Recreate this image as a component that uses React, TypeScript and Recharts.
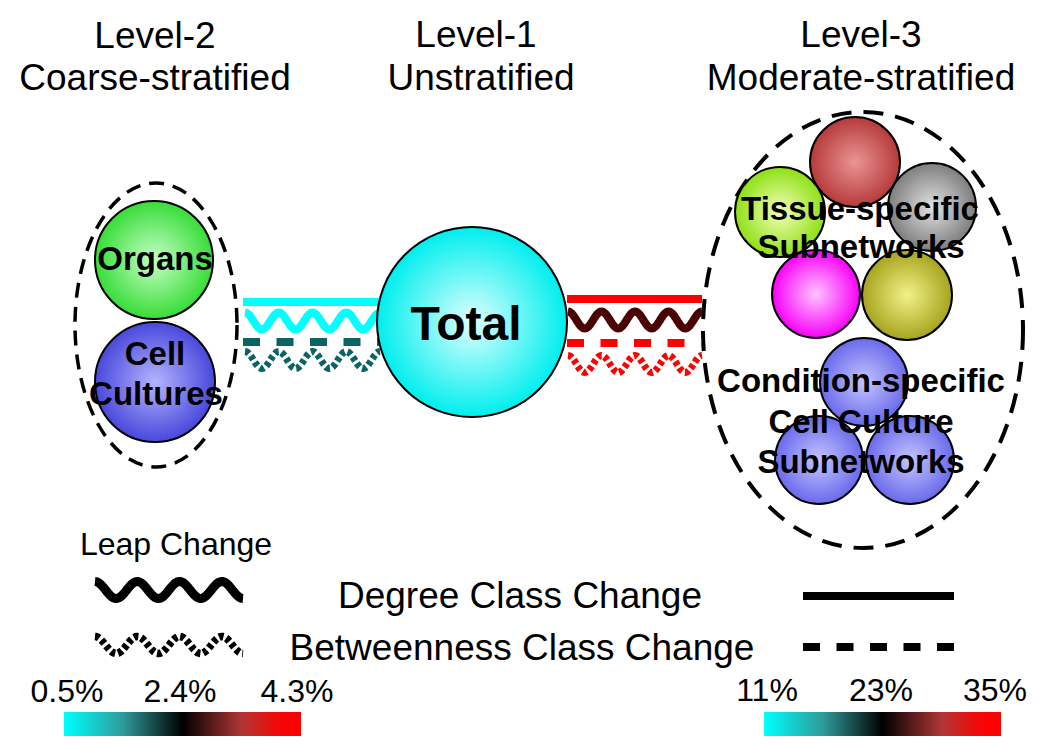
import React from "react";
import { ReferenceArea, ReferenceLine, Scatter, ScatterChart, XAxis, YAxis } from "recharts";

const W = 1039;
const H = 756;
const FONT = "'Liberation Sans', Arial, Helvetica, sans-serif";

// ball colours: [highlight, rim]
const BALL: Record<string, [string, string]> = {
  green: ["#c6ffc6", "#38dc38"],
  blue: ["#b4b4ff", "#4848dc"],
  cyan: ["#e0ffff", "#00eeee"],
  red: ["#eb9494", "#b63a3a"],
  gray: ["#e2e2e2", "#7e7e7e"],
  lime: ["#f4ffb8", "#8ee015"],
  magenta: ["#ffc4ff", "#f800f8"],
  olive: ["#f2f288", "#a6a41e"],
  lavender: ["#c4c4ff", "#6a6aec"],
};

const INK: Record<string, string> = {
  cyan: "#00ffff",
  teal: "#0b6363",
  red: "#ff0000",
  maroon: "#4a0202",
  black: "#000000",
};

// subnetworks (centre + radius in picture units)
const nodes = [
  { id: "organs", x: 154, y: 260, r: 59, ball: "green" },
  { id: "cells", x: 155, y: 382, r: 60, ball: "blue" },
  { id: "total", x: 472, y: 322, r: 95, ball: "cyan" },
  { id: "t-red", x: 855, y: 162, r: 45, ball: "red" },
  { id: "t-gray", x: 932, y: 207, r: 44, ball: "gray" },
  { id: "t-lime", x: 780, y: 212, r: 45, ball: "lime" },
  { id: "t-mag", x: 816, y: 294, r: 44, ball: "magenta" },
  { id: "t-olive", x: 907, y: 295, r: 45, ball: "olive" },
  { id: "c-top", x: 864, y: 382, r: 44, ball: "lavender" },
  { id: "c-left", x: 819, y: 460, r: 44, ball: "lavender" },
  { id: "c-right", x: 910, y: 460, r: 44, ball: "lavender" },
];

// stratification groups (bounding boxes of the dashed ovals)
const groups = [
  { id: "level2", x1: 75, x2: 237, y1: 183, y2: 467 },
  { id: "level3", x1: 703, x2: 1023, y1: 112, y2: 548 },
];

// class-change links between levels
const links = [
  { id: "l-deg", x1: 243, x2: 380, y: 302, kind: "solid", ink: "cyan" },
  { id: "l-leap", x1: 245, x2: 380, y: 321, kind: "wave", ink: "cyan" },
  { id: "l-btw", x1: 243, x2: 382, y: 342, kind: "dash", ink: "teal" },
  { id: "l-leapb", x1: 245, x2: 380, y: 360, kind: "dotwave", ink: "teal" },
  { id: "r-deg", x1: 567, x2: 702, y: 299, kind: "solid", ink: "red" },
  { id: "r-leap", x1: 568, x2: 702, y: 320, kind: "wave", ink: "maroon" },
  { id: "r-btw", x1: 567, x2: 702, y: 343, kind: "dash", ink: "red" },
  { id: "r-leapb", x1: 568, x2: 702, y: 364, kind: "dotwave", ink: "red" },
];

// legend keys
const keys = [
  { id: "k-leap", x1: 95, x2: 243, y: 590, kind: "bigwave", ink: "black" },
  { id: "k-leapb", x1: 95, x2: 243, y: 645, kind: "bigdotwave", ink: "black" },
  { id: "k-deg", x1: 803, x2: 954, y: 596, kind: "solid", ink: "black" },
  { id: "k-btw", x1: 803, x2: 954, y: 647, kind: "dash", ink: "black" },
];

const titles = [
  { text: "Level-2", x: 155, y: 48 },
  { text: "Coarse-stratified", x: 155, y: 90 },
  { text: "Level-1", x: 476, y: 47 },
  { text: "Unstratified", x: 481, y: 90 },
  { text: "Level-3", x: 861, y: 47 },
  { text: "Moderate-stratified", x: 861, y: 90 },
];

const nodeLabels = [
  { text: "Organs", x: 155, y: 270 },
  { text: "Cell", x: 155, y: 365 },
  { text: "Cultures", x: 156, y: 405 },
  { text: "Tissue-specific", x: 860, y: 220 },
  { text: "Subnetworks", x: 861, y: 258 },
  { text: "Condition-specific", x: 861, y: 392 },
  { text: "Cell Culture", x: 861, y: 433 },
  { text: "Subnetworks", x: 861, y: 473 },
];

const bigLabels = [{ text: "Total", x: 466, y: 340 }];

const legendLabels = [
  { text: "Leap Change", x: 176, y: 555, small: true },
  { text: "Degree Class Change", x: 520, y: 608 },
  { text: "Betweenness Class Change", x: 522, y: 660 },
];

const scales = [
  { id: "leap", x1: 64, x2: 301, y1: 712, y2: 736 },
  { id: "class", x1: 764, x2: 1001, y1: 712, y2: 736 },
];

const scaleTicks = [
  { text: "0.5%", x: 67, y: 702 },
  { text: "2.4%", x: 180, y: 702 },
  { text: "4.3%", x: 297, y: 702 },
  { text: "11%", x: 767, y: 701 },
  { text: "23%", x: 881, y: 701 },
  { text: "35%", x: 995, y: 701 },
];

const STYLE: Record<string, { w: number; dash?: string; amp?: number; cycles?: number }> = {
  solid: { w: 8 },
  dash: { w: 8, dash: "17 16.5" },
  wave: { w: 8, amp: 8.5, cycles: 4 },
  dotwave: { w: 7, amp: 8.5, cycles: 4, dash: "4.5 3" },
  bigwave: { w: 9, amp: 8.5, cycles: 3.5 },
  bigdotwave: { w: 7.5, amp: 8.5, cycles: 3.5, dash: "4.5 3" },
};

function wavePath(x1: number, x2: number, y: number, amp: number, cycles: number) {
  const n = 160;
  let d = "";
  for (let i = 0; i <= n; i++) {
    const t = i / n;
    const px = x1 + (x2 - x1) * t;
    const py = y - amp * Math.cos(2 * Math.PI * cycles * t);
    d += `${i ? "L" : "M"}${px.toFixed(2)},${py.toFixed(2)}`;
  }
  return d;
}

function linkShape(kind: string, color: string) {
  const s = STYLE[kind];
  return (p: any) => {
    if (s.amp) {
      return (
        <path
          d={wavePath(p.x1, p.x2, p.y1, s.amp, s.cycles!)}
          fill="none"
          stroke={color}
          strokeWidth={s.w}
          strokeDasharray={s.dash}
        />
      );
    }
    return <line x1={p.x1} y1={p.y1} x2={p.x2} y2={p.y2} stroke={color} strokeWidth={s.w} strokeDasharray={s.dash} />;
  };
}

const Ball = (p: any) => {
  const d = p.payload;
  return <circle cx={p.cx} cy={p.cy} r={d.r} fill={`url(#ball-${d.ball})`} stroke="#000" strokeWidth={2} />;
};

function textShape(size: number, bold: boolean) {
  return (p: any) => (
    <text
      x={p.cx}
      y={p.cy}
      textAnchor="middle"
      fontFamily={FONT}
      fontSize={p.payload.small ? 32 : size}
      fontWeight={bold ? 700 : 400}
      fill="#000"
    >
      {p.payload.text}
    </text>
  );
}

const Oval = (dash: string, w: number) => (p: any) => {
  const rx = Math.abs(p.width) / 2;
  const ry = Math.abs(p.height) / 2;
  const cx = p.x + p.width / 2;
  const cy = p.y + p.height / 2;
  return <ellipse cx={cx} cy={cy} rx={rx} ry={ry} fill="none" stroke="#000" strokeWidth={w} strokeDasharray={dash} />;
};

export default function App() {
  return (
    <div style={{ position: "absolute", left: 0, top: 0, width: W, height: H, background: "#fff" }}>
      <ScatterChart width={W} height={H} margin={{ top: 0, right: 0, bottom: 0, left: 0 }}>
        <defs>
          {Object.entries(BALL).map(([k, [hi, rim]]) => (
            <radialGradient key={k} id={`ball-${k}`} cx="50%" cy="50%" r="50%">
              <stop offset="0%" stopColor={hi} />
              <stop offset="100%" stopColor={rim} />
            </radialGradient>
          ))}
          <linearGradient id="heat" x1="0" y1="0" x2="1" y2="0">
            <stop offset="0%" stopColor="#00ffff" />
            <stop offset="25%" stopColor="#2f9a9a" />
            <stop offset="50%" stopColor="#000000" />
            <stop offset="75%" stopColor="#b03636" />
            <stop offset="90%" stopColor="#f20808" />
            <stop offset="100%" stopColor="#ff0000" />
          </linearGradient>
        </defs>
        <XAxis type="number" dataKey="x" domain={[0, W]} allowDataOverflow hide />
        <YAxis type="number" dataKey="y" domain={[0, H]} reversed allowDataOverflow hide />

        <ReferenceArea {...groups[0]} shape={Oval("15 9", 3.5)} ifOverflow="visible" />
        <ReferenceArea {...groups[1]} shape={Oval("20 12", 4)} ifOverflow="visible" />

        {scales.map((s) => (
          <ReferenceArea key={s.id} x1={s.x1} x2={s.x2} y1={s.y1} y2={s.y2} fill="url(#heat)" fillOpacity={1} stroke="none" ifOverflow="visible" />
        ))}

        {[...links, ...keys].map((l) => (
          <ReferenceLine
            key={l.id}
            segment={[
              { x: l.x1, y: l.y },
              { x: l.x2, y: l.y },
            ]}
            ifOverflow="visible"
            shape={linkShape(l.kind, INK[l.ink])}
          />
        ))}

        <Scatter data={nodes} shape={Ball} isAnimationActive={false} />
        <Scatter data={titles} shape={textShape(37, false)} isAnimationActive={false} />
        <Scatter data={nodeLabels} shape={textShape(33, true)} isAnimationActive={false} />
        <Scatter data={bigLabels} shape={textShape(48, true)} isAnimationActive={false} />
        <Scatter data={legendLabels} shape={textShape(37, false)} isAnimationActive={false} />
        <Scatter data={scaleTicks} shape={textShape(32, false)} isAnimationActive={false} />
      </ScatterChart>
    </div>
  );
}
